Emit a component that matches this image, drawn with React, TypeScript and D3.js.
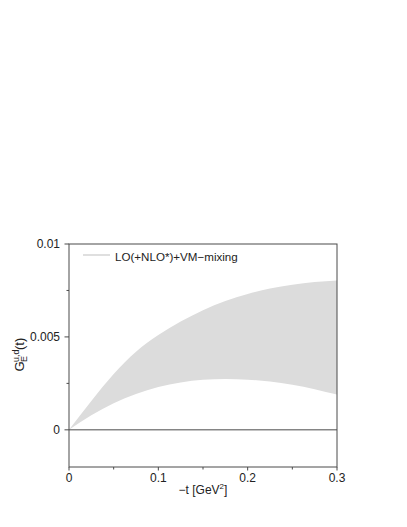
import { useMemo } from "react";
import * as d3 from "d3";

// -t [GeV^2]
const tValues = [0, 0.025, 0.05, 0.075, 0.1, 0.125, 0.15, 0.175, 0.2, 0.225, 0.25, 0.275, 0.3];
// band edges, G_E^{u,d}(t)
const upperValues = [0, 0.00155, 0.003, 0.0042, 0.0051, 0.00583, 0.00644, 0.00693, 0.00731, 0.0076, 0.00781, 0.00795, 0.00803];
const lowerValues = [0, 0.00078, 0.00143, 0.00193, 0.0023, 0.00255, 0.00269, 0.00273, 0.0027, 0.0026, 0.00243, 0.00219, 0.0019];

const xTicks = [0, 0.1, 0.2, 0.3];
const xTickLabels = ["0", "0.1", "0.2", "0.3"];
const xMinorTicks = [0.05, 0.15, 0.25];
const yTicks = [0, 0.005, 0.01];
const yTickLabels = ["0", "0.005", "0.01"];
const yMinorTicks = [0.0025, 0.0075];

const legendLabel = "LO(+NLO*)+VM\u2212mixing";

const W = 407;
const H = 527;
const m = { l: 69, r: 70, t: 244, b: 60 };
const axisColor = "#4a4a4a";
const bandColor = "#dcdcdc";
const font = "'Liberation Sans', Arial, Helvetica, sans-serif";

export default function App() {
  const x = d3.scaleLinear().domain([0, 0.3]).range([m.l, W - m.r]);
  const y = d3.scaleLinear().domain([-0.002, 0.01]).range([H - m.b, m.t]);

  const bandPath = useMemo(() => {
    const rows = tValues.map((t, i) => ({ t, lo: lowerValues[i], hi: upperValues[i] }));
    return (
      d3
        .area<{ t: number; lo: number; hi: number }>()
        .x((d) => x(d.t))
        .y0((d) => y(d.lo))
        .y1((d) => y(d.hi))
        .curve(d3.curveNatural)(rows) || ""
    );
  }, []);

  const [x0, x1] = x.range();
  const [yb, yt] = y.range();

  return (
    <svg
      width={W}
      height={H}
      style={{ position: "absolute", left: 0, top: 0, background: "#fff" }}
      fontFamily={font}
    >
      {/* band */}
      <path d={bandPath} fill={bandColor} stroke="none" />

      {/* zero line */}
      <line x1={x0} x2={x1} y1={y(0)} y2={y(0)} stroke={axisColor} strokeWidth={1} />

      {/* frame */}
      <rect x={x0} y={yt} width={x1 - x0} height={yb - yt} fill="none" stroke={axisColor} strokeWidth={1} />

      {/* x ticks */}
      {xTicks.map((t, i) => (
        <g key={"xt" + i}>
          <line x1={x(t)} x2={x(t)} y1={yb} y2={yb + 3.5} stroke={axisColor} />
          <text x={x(t)} y={yb + 15} textAnchor="middle" fontSize={12} fill="#222">
            {xTickLabels[i]}
          </text>
        </g>
      ))}
      {xMinorTicks.map((t, i) => (
        <line key={"xm" + i} x1={x(t)} x2={x(t)} y1={yb} y2={yb + 2.5} stroke={axisColor} />
      ))}

      {/* y ticks */}
      {yTicks.map((v, i) => (
        <g key={"yt" + i}>
          <line x1={x0 - 4.5} x2={x0} y1={y(v)} y2={y(v)} stroke={axisColor} />
          <text x={x0 - 9} y={y(v) + 4.3} textAnchor="end" fontSize={12} fill="#222">
            {yTickLabels[i]}
          </text>
        </g>
      ))}
      {yMinorTicks.map((v, i) => (
        <line key={"ym" + i} x1={x0 - 2.5} x2={x0} y1={y(v)} y2={y(v)} stroke={axisColor} />
      ))}

      {/* x label */}
      <text x={(x0 + x1) / 2} y={yb + 27} textAnchor="middle" fontSize={12} fill="#222">
        {"\u2212t [GeV"}
        <tspan fontSize={8} dy={-5}>2</tspan>
        <tspan dy={5}>]</tspan>
      </text>

      {/* y label */}
      <g transform={`translate(24, ${(yb + yt) / 2 - 2}) rotate(-90)`} fill="#222">
        <text x={-18} y={0} fontSize={13}>G</text>
        <text x={-8.5} y={-5} fontSize={9}>u,d</text>
        <text x={-8.5} y={3} fontSize={9}>E</text>
        <text x={3.5} y={0} fontSize={13}>(t)</text>
      </g>

      {/* legend */}
      <line x1={83} x2={110} y1={yt + 11} y2={yt + 11} stroke="#d4d4d4" strokeWidth={1.5} />
      <text x={115} y={yt + 16.5} fontSize={11.6} fill="#222">
        {legendLabel}
      </text>
    </svg>
  );
}
